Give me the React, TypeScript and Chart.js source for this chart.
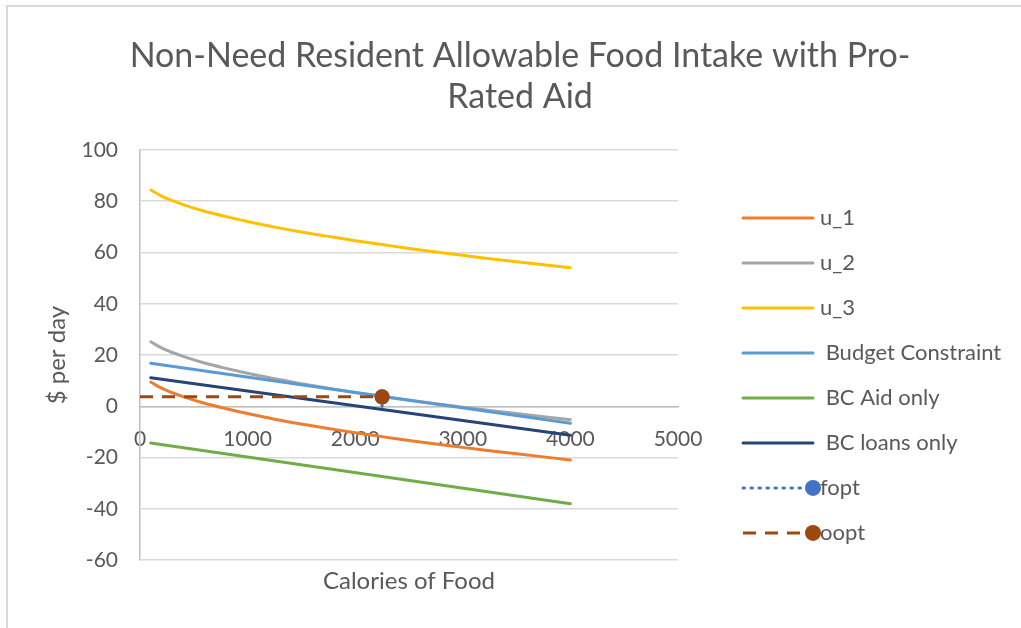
import React, { useEffect, useRef } from "react";
import { Chart, registerables, layouts } from "chart.js";

Chart.register(...registerables);

const FONT = "Lato, 'Open Sans', sans-serif";
const TEXT = "#595959";

// ---------------- data ----------------
const seriesNames = ["u_1", "u_2", "u_3", " Budget Constraint", " BC Aid only", " BC loans only", "fopt", "oopt"];
const seriesColors = ["#ED7D31", "#A5A5A5", "#FFC000", "#5B9BD5", "#70AD47", "#264478", "#4472C4", "#9E480E"];

const curveX = [100, 200, 300, 400, 600, 800, 1000, 1250, 1500, 1750, 2000, 2250, 2500, 2750, 3000, 3250, 3500, 3750, 4000];
const u1Y = [9.5, 7.1, 5.3, 3.8, 1.2, -0.9, -2.8, -5.0, -6.9, -8.6, -10.3, -11.8, -13.3, -14.7, -16.0, -17.3, -18.5, -19.7, -20.9];
const u2Y = [25.2, 22.8, 21.0, 19.5, 16.9, 14.8, 12.9, 10.8, 8.8, 7.1, 5.4, 3.9, 2.4, 1.0, -0.3, -1.6, -2.8, -4.0, -5.2];
const u3Y = [84.4, 82.0, 80.2, 78.7, 76.1, 74.0, 72.1, 69.9, 68.0, 66.3, 64.6, 63.1, 61.6, 60.2, 58.9, 57.6, 56.4, 55.2, 54.1];

const lineX = [100, 4000];
const budgetY = [16.8, -6.6];
const aidOnlyY = [-14.3, -38.0];
const loansOnlyY = [11.2, -11.3];

const foptX = [2250, 2250];
const foptY = [0, 3.7];
const ooptX = [0, 2250];
const ooptY = [3.7, 3.7];

const xTickValues = [0, 1000, 2000, 3000, 4000, 5000];
const yTickValues = [-60, -40, -20, 0, 20, 40, 60, 80, 100];

const titleLines = ["Non-Need Resident Allowable Food Intake with Pro-", "Rated Aid"];
const xTitle = "Calories of Food";
const yTitle = "$ per day";

// ---------------- helpers ----------------
const pts = (xs: number[], ys: number[]) => xs.map((x, i) => ({ x, y: ys[i] }));

const seriesData = [
  pts(curveX, u1Y),
  pts(curveX, u2Y),
  pts(curveX, u3Y),
  pts(lineX, budgetY),
  pts(lineX, aidOnlyY),
  pts(lineX, loansOnlyY),
  pts(foptX, foptY),
  pts(ooptX, ooptY),
];
const dashes: number[][] = [[], [], [], [], [], [], [1.5, 6.5], [13, 9]];
const caps = ["round", "round", "round", "round", "round", "round", "round", "butt"];
const hasMarker = [false, false, false, false, false, false, true, true];

const LEGEND_W = 343;
const LEFT_PAD = 19;
const Y_AXIS_W = 121;

const sideLegend = {
  id: "sideLegend",
  beforeInit(chart: any) {
    const box: any = {
      position: "right",
      weight: 10,
      fullSize: false,
      options: {},
      left: 0,
      top: 0,
      right: 0,
      bottom: 0,
      width: 0,
      height: 0,
      isHorizontal: () => false,
      update(maxWidth: number, maxHeight: number) {
        box.width = LEGEND_W;
        box.height = maxHeight;
      },
      draw() {},
    };
    layouts.addBox(chart, box);
  },
  afterDraw(chart: any) {
    const ctx = chart.ctx;
    const ca = chart.chartArea;
    const x0 = ca.right + 65;
    const x1 = ca.right + 135;
    const tx = ca.right + 142;
    seriesNames.forEach((name, i) => {
      const y = ca.top + 68 + i * 45;
      ctx.save();
      ctx.strokeStyle = seriesColors[i];
      ctx.lineWidth = 3;
      ctx.setLineDash(dashes[i]);
      ctx.lineCap = caps[i];
      ctx.beginPath();
      ctx.moveTo(x0, y);
      ctx.lineTo(x1, y);
      ctx.stroke();
      if (hasMarker[i]) {
        ctx.setLineDash([]);
        ctx.fillStyle = seriesColors[i];
        ctx.beginPath();
        ctx.arc(x1, y, 8, 0, Math.PI * 2);
        ctx.fill();
      }
      ctx.fillStyle = TEXT;
      ctx.font = `22px ${FONT}`;
      ctx.textBaseline = "middle";
      ctx.textAlign = "left";
      ctx.fillText(name, tx, y);
      ctx.restore();
    });
  },
};

const frame = {
  id: "frame",
  beforeDraw(chart: any) {
    const ctx = chart.ctx;
    ctx.save();
    ctx.fillStyle = "#FFFFFF";
    ctx.fillRect(0, 0, chart.width, chart.height);
    ctx.strokeStyle = "#D9D9D9";
    ctx.lineWidth = 2;
    ctx.beginPath();
    ctx.moveTo(7, chart.height);
    ctx.lineTo(7, 6);
    ctx.lineTo(chart.width, 6);
    ctx.stroke();
    ctx.restore();
  },
};

export default function App() {
  const ref = useRef<HTMLCanvasElement | null>(null);

  useEffect(() => {
    if (!ref.current) return;
    const chart = new Chart(ref.current, {
      type: "scatter",
      data: {
        datasets: seriesNames.map((name, i) => ({
          label: name,
          data: seriesData[i],
          showLine: true,
          borderColor: seriesColors[i],
          backgroundColor: seriesColors[i],
          borderWidth: 3,
          borderDash: dashes[i],
          borderCapStyle: caps[i] as any,
          pointRadius: hasMarker[i] ? [0, 7.5] : 0,
          pointHoverRadius: hasMarker[i] ? [0, 7.5] : 0,
          pointBackgroundColor: seriesColors[i],
          pointBorderColor: seriesColors[i],
          pointBorderWidth: 0,
          fill: false,
          tension: 0,
          cubicInterpolationMode: i < 3 ? "monotone" : "default",
          order: seriesNames.length - i,
        })),
      },
      plugins: [frame, sideLegend],
      options: {
        animation: false,
        responsive: false,
        devicePixelRatio: 1,
        events: [],
        layout: { padding: { left: LEFT_PAD, right: 0, top: 0, bottom: 32 } },
        plugins: {
          legend: { display: false },
          tooltip: { enabled: false },
          title: {
            display: true,
            text: titleLines,
            color: TEXT,
            font: { family: FONT, size: 34, weight: "normal", lineHeight: 1.22 },
            padding: { top: 35, bottom: 32 },
          },
          subtitle: {
            display: true,
            position: "bottom",
            fullSize: false,
            text: xTitle,
            color: TEXT,
            font: { family: FONT, size: 24, weight: "normal", lineHeight: 1.2 },
            padding: { top: 7, bottom: 0 },
          },
        },
        scales: {
          x: {
            type: "linear",
            position: { y: 0 } as any,
            min: xTickValues[0],
            max: xTickValues[xTickValues.length - 1],
            ticks: {
              stepSize: xTickValues[1] - xTickValues[0],
              color: TEXT,
              font: { family: FONT, size: 21 },
              padding: 12,
              maxRotation: 0,
              autoSkip: false,
              callback: (v: any) => String(v),
            },
            grid: { display: false },
            border: { display: true, color: "#BFBFBF", width: 1.5 },
            afterFit: (s: any) => {
              s.height = 0;
            },
          },
          y: {
            type: "linear",
            min: yTickValues[0],
            max: yTickValues[yTickValues.length - 1],
            ticks: {
              stepSize: yTickValues[1] - yTickValues[0],
              color: TEXT,
              font: { family: FONT, size: 21 },
              padding: 22,
            },
            grid: { color: "#D9D9D9", lineWidth: 1.5, drawTicks: false },
            border: { display: true, color: "#BFBFBF", width: 1.5 },
            title: {
              display: true,
              text: yTitle,
              color: TEXT,
              font: { family: FONT, size: 24, weight: "normal", lineHeight: 1.2 },
              padding: { top: 24, bottom: 0 },
            },
            afterFit: (s: any) => {
              s.width = Y_AXIS_W;
            },
          },
        },
      } as any,
    });
    return () => chart.destroy();
  }, []);

  return (
    <div style={{ position: "fixed", left: 0, top: 0, width: 1021, height: 628, background: "#fff" }}>
      <canvas ref={ref} width={1021} height={628} style={{ width: 1021, height: 628, display: "block" }} />
    </div>
  );
}
